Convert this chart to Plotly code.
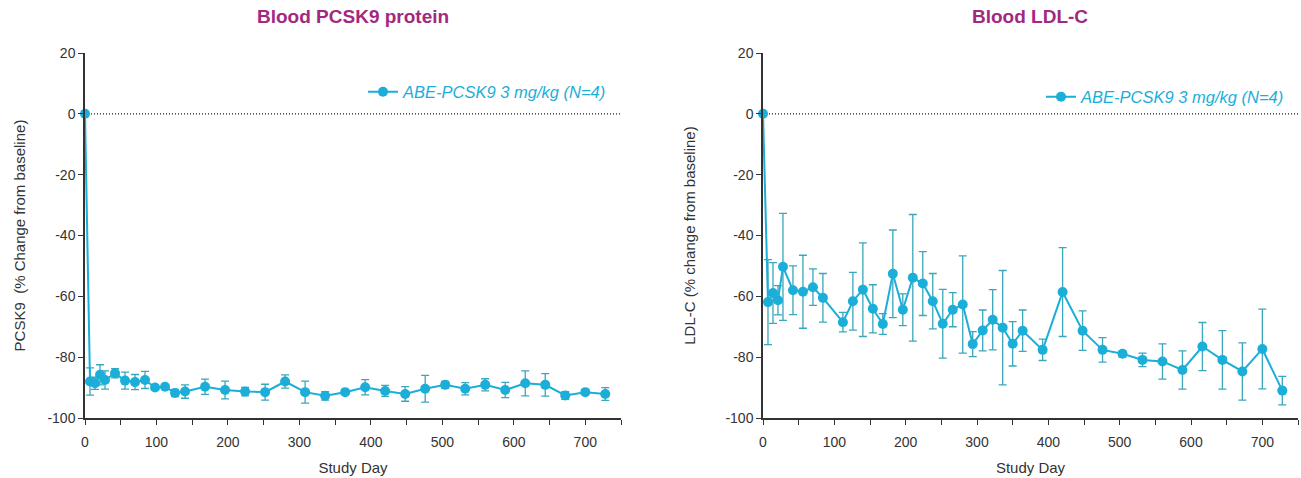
import plotly.graph_objects as go

# --- Blood PCSK9 protein (% change from baseline) ---
pcsk9_day = [0, 7, 14, 21, 28, 42, 56, 70, 84, 98, 112, 126, 140, 168, 196, 224, 252,
             280, 308, 336, 364, 392, 420, 448, 476, 504, 532, 560, 588, 616, 644, 672,
             700, 728]
pcsk9_mean = [0, -88.0, -88.6, -85.8, -87.5, -85.3, -87.7, -88.2, -87.5, -90.0, -89.7,
              -91.8, -91.3, -89.7, -90.8, -91.3, -91.5, -88.0, -91.5, -92.7, -91.5,
              -89.9, -91.1, -92.1, -90.4, -89.1, -90.4, -89.1, -90.8, -88.6, -89.1,
              -92.6, -91.5, -92.1]
pcsk9_err = [0, 4.5, 2.0, 3.3, 3.0, 1.5, 2.8, 2.5, 2.8, 0.8, 0.6, 1.2, 2.2, 2.5, 2.9,
             1.4, 2.6, 2.2, 3.6, 1.4, 0.7, 2.5, 1.8, 2.4, 4.4, 1.1, 2.0, 2.0, 2.5, 4.1,
             3.7, 1.3, 0.8, 2.1]

# --- Blood LDL-C (% change from baseline) ---
ldl_day = [0, 7, 14, 21, 28, 42, 56, 70, 84, 112, 126, 140, 154, 168, 182, 196, 210,
           224, 238, 252, 266, 280, 294, 308, 322, 336, 350, 364, 392, 420, 448, 476,
           504, 532, 560, 588, 616, 644, 672, 700, 728]
ldl_mean = [0, -61.9, -58.9, -61.3, -50.3, -58.0, -58.5, -57.0, -60.5, -68.5, -61.6,
            -57.8, -64.1, -69.1, -52.6, -64.4, -53.9, -55.8, -61.6, -69.0, -64.4,
            -62.7, -75.7, -71.2, -67.7, -70.3, -75.6, -71.3, -77.6, -58.6, -71.3,
            -77.6, -78.9, -80.9, -81.4, -84.2, -76.5, -80.9, -84.7, -77.3, -91.0]
ldl_err = [0, 14.0, 10.0, 4.8, 17.6, 8.0, 12.0, 6.0, 8.0, 3.2, 9.5, 15.4, 7.9, 3.4,
           14.4, 5.2, 20.8, 10.5, 9.1, 11.3, 5.6, 16.0, 4.1, 6.7, 9.9, 18.8, 7.3, 6.8,
           3.5, 14.6, 6.5, 4.0, 1.0, 2.2, 5.8, 6.3, 7.9, 9.6, 9.4, 13.1, 4.7]

# axis ticks
x_tickvals = [0, 50, 100, 150, 200, 250, 300, 350, 400, 450, 500, 550, 600, 650, 700, 750]
x_ticktext = ["0", "", "100", "", "200", "", "300", "", "400", "", "500", "", "600", "",
              "700", ""]
y_tickvals = [-100, -80, -60, -40, -20, 0, 20]
y_ticktext = ["-100", "-80", "-60", "-40", "-20", "0", "20"]

SERIES_NAME = "ABE-PCSK9 3 mg/kg (N=4)"
BASELINE = 0

LINE_COLOR = "#1aaed9"
ERR_COLOR = "#3aa7ba"
TITLE_COLOR = "#a3287f"
AXIS_COLOR = "#333333"
TEXT_COLOR = "#333333"
FONT = "Liberation Sans, Arial, sans-serif"

fig = go.Figure()


def add_series(x, y, err, xa, ya, legend):
    fig.add_trace(go.Scatter(
        x=x, y=y, mode="lines+markers", name=SERIES_NAME,
        xaxis=xa, yaxis=ya, legend=legend,
        line=dict(color=LINE_COLOR, width=2),
        marker=dict(color=LINE_COLOR, size=10),
        error_y=dict(type="data", array=err, visible=True, color=ERR_COLOR,
                     thickness=1.3, width=4),
        cliponaxis=False,
    ))


add_series(pcsk9_day, pcsk9_mean, pcsk9_err, "x", "y", "legend")
add_series(ldl_day, ldl_mean, ldl_err, "x2", "y2", "legend2")

W, H = 1301, 478

x_common = dict(
    range=[0, 750], tickmode="array", tickvals=x_tickvals, ticktext=x_ticktext,
    ticks="outside", ticklen=5, tickwidth=1.3, tickcolor=AXIS_COLOR,
    ticklabelstandoff=5,
    showline=True, linecolor=AXIS_COLOR, linewidth=1.5, showgrid=False, zeroline=False,
    tickfont=dict(family=FONT, size=14, color=TEXT_COLOR),
    title=dict(text="Study Day", standoff=14,
               font=dict(family=FONT, size=15, color=TEXT_COLOR)),
)
y_common = dict(
    range=[-100, 20], tickmode="array", tickvals=y_tickvals, ticktext=y_ticktext,
    ticks="outside", ticklen=5, tickwidth=1.3, tickcolor=AXIS_COLOR,
    showline=True, linecolor=AXIS_COLOR, linewidth=1.5, showgrid=False, zeroline=False,
    tickfont=dict(family=FONT, size=14, color=TEXT_COLOR),
)

left_dom = [85 / W, 621 / W]
right_dom = [763 / W, 1298 / W]
y_dom = [1 - 418 / H, 1 - 53 / H]

legend_font = dict(family=FONT, size=16.5, color=LINE_COLOR, style="italic")

fig.update_layout(
    width=W, height=H,
    margin=dict(l=0, r=0, t=0, b=0, autoexpand=False),
    paper_bgcolor="white", plot_bgcolor="white",
    xaxis=dict(x_common, domain=left_dom, anchor="y"),
    yaxis=dict(y_common, domain=y_dom, anchor="x",
               title=dict(text="PCSK9  (% Change from baseline)", standoff=18,
                          font=dict(family=FONT, size=15, color=TEXT_COLOR))),
    xaxis2=dict(x_common, domain=right_dom, anchor="y2"),
    yaxis2=dict(y_common, domain=y_dom, anchor="x2",
                title=dict(text="LDL-C (% change from baseline)", standoff=26,
                           font=dict(family=FONT, size=15, color=TEXT_COLOR))),
    legend=dict(x=612 / W, y=1 - 92 / H, xanchor="right", yanchor="middle",
                bgcolor="rgba(0,0,0,0)", itemwidth=30, font=legend_font),
    legend2=dict(x=1290 / W, y=1 - 97 / H, xanchor="right", yanchor="middle",
                 bgcolor="rgba(0,0,0,0)", itemwidth=30, font=legend_font),
    showlegend=True,
)

# dotted baseline across each panel
for xr, yr in (("x domain", "y"), ("x2 domain", "y2")):
    fig.add_shape(type="line", xref=xr, yref=yr, x0=0, x1=1, y0=BASELINE, y1=BASELINE,
                  line=dict(color="#222222", width=1.2, dash="1px,2px"), layer="below")

# panel titles
for txt, xc in (("Blood PCSK9 protein", 353), ("Blood LDL-C", 1030)):
    fig.add_annotation(text=f"<b>{txt}</b>", x=xc / W, y=1 - 17 / H, xref="paper",
                       yref="paper", showarrow=False, xanchor="center", yanchor="middle",
                       font=dict(family=FONT, size=19, color=TITLE_COLOR))

fig.write_html("out.html")
